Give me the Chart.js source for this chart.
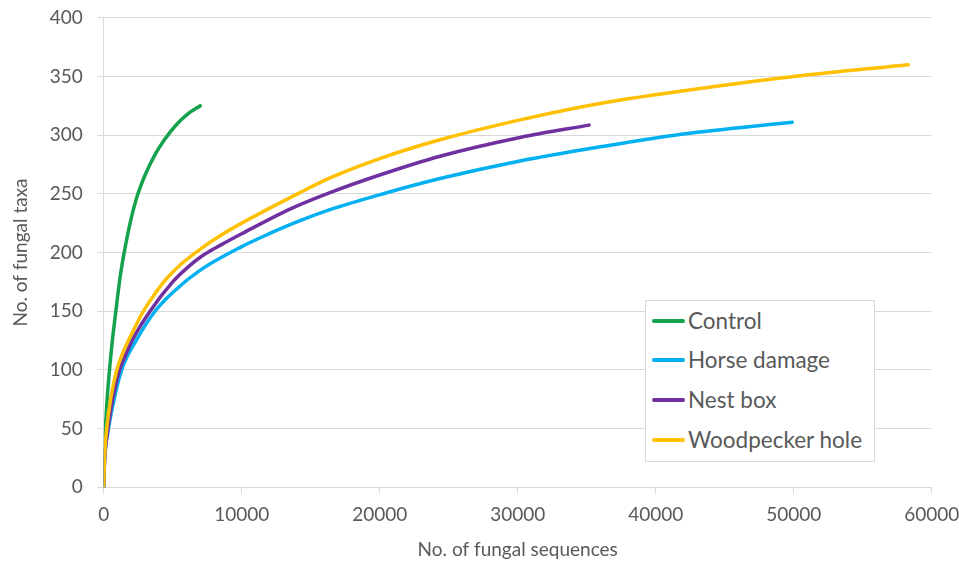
<!DOCTYPE html>
<html>
<head>
<meta charset="utf-8">
<script src="https://cdn.jsdelivr.net/npm/chart.js@4.4.1/dist/chart.umd.min.js"></script>
<style>
  body { margin: 0; background: #fff; }
  #wrap { position: relative; width: 959px; height: 562px; }
  #legend {
    position: absolute; left: 645px; top: 300px; width: 228px; height: 160px;
    border: 1px solid #d9d9d9; background: #fff;
    font-family: Lato, sans-serif; font-size: 22.5px; color: #595959;
  }
  .item { position: absolute; left: 0; height: 30px; line-height: 30px; white-space: nowrap; }
  .item span.swatch { position: absolute; left: 6px; top: 13px; width: 33px; height: 4px; border-radius: 2px; }
  .item span.label { position: absolute; left: 42px; top: 0; }
</style>
</head>
<body>
<div id="wrap">
  <canvas id="myChart" width="959" height="562"></canvas>
  <div id="legend"></div>
</div>
<script>
// rarefaction curves
const seriesNames = ['Control', 'Horse damage', 'Nest box', 'Woodpecker hole'];
const seriesColors = ['#14a24c', '#00b0f0', '#7030a0', '#ffc000'];

const controlX = [0, 40, 120, 250, 420, 620, 880, 1200, 1550, 1950, 2400, 3000, 3700, 4400, 5200, 6100, 7000];
const controlY = [0, 22, 48, 75, 100, 124, 150, 180, 204, 227, 247, 266, 283, 296, 308, 318, 325];

const horseX = [0, 60, 280, 700, 1300, 2400, 3717, 5000, 7000, 10000, 12000, 14000, 16400, 20384, 24370, 30166, 35964, 42000, 49900];
const horseY = [0, 22, 45, 72, 100, 126, 150, 166, 185, 205, 216, 226, 236.5, 250.5, 263, 278, 290, 301, 311];

const nestX = [0, 60, 250, 600, 1150, 1600, 2100, 3355, 5000, 6000, 7000, 8500, 10000, 13500, 16400, 20000, 24370, 30166, 35167];
const nestY = [0, 22, 45, 72, 100, 113, 126, 150, 175, 186.5, 196, 206.5, 216, 237, 251, 266, 282, 298, 308.5];

const woodX = [0, 60, 217, 500, 950, 1400, 2000, 2826, 3600, 4500, 5600, 6900, 8400, 10000, 14225, 16400, 20000, 24370, 30166, 35964, 44000, 50000, 58300];
const woodY = [0, 25, 50, 75, 100, 115, 130, 149, 163, 177, 190, 202, 214, 225, 251, 263.5, 280, 296, 313, 327, 341, 350, 360];

const xTicks = [0, 10000, 20000, 30000, 40000, 50000, 60000];
const yTicks = [0, 50, 100, 150, 200, 250, 300, 350, 400];

const seriesX = [controlX, horseX, nestX, woodX];
const seriesY = [controlY, horseY, nestY, woodY];
const drawOrder = [3, 2, 1, 0]; // woodpecker on top

const grey = '#595959';
const gridGrey = '#d9d9d9';
const font = 'Lato, sans-serif';

const datasets = seriesNames.map((name, i) => ({
    label: name,
    data: seriesX[i].map((x, j) => ({ x: x, y: seriesY[i][j] })),
    borderColor: seriesColors[i],
    backgroundColor: seriesColors[i],
    borderWidth: 3.5,
    borderCapStyle: 'round',
    pointRadius: 0,
    cubicInterpolationMode: 'monotone',
    order: drawOrder[i]
}));

// let layout.padding alone decide where the plot area goes
function noScalePadding(s) {
    s.paddingTop = 0;
    s.paddingBottom = 0;
    s.paddingLeft = 0;
    s.paddingRight = 0;
}

new Chart(document.getElementById('myChart'), {
    type: 'line',
    data: { datasets: datasets },
    options: {
        responsive: false,
        animation: false,
        layout: { padding: { top: 17.7, right: 27.3, left: 0, bottom: 0 } },
        plugins: { legend: { display: false }, tooltip: { enabled: false } },
        scales: {
            x: {
                type: 'linear',
                min: 0,
                max: 60000,
                afterBuildTicks: s => { s.ticks = xTicks.map(v => ({ value: v })); },
                afterFit: s => { s.height = 74.7; noScalePadding(s); },
                ticks: { color: grey, font: { family: font, size: 19 }, padding: 10, maxRotation: 0,
                         callback: v => String(v) },
                grid: { drawOnChartArea: false, drawTicks: true, tickLength: 6, color: gridGrey },
                border: { display: true, color: gridGrey, width: 1 },
                title: { display: true, text: 'No. of fungal sequences', color: grey,
                         font: { family: font, size: 19 }, padding: { top: 0, bottom: 1 } }
            },
            y: {
                min: 0,
                max: 400,
                afterBuildTicks: s => { s.ticks = yTicks.map(v => ({ value: v })); },
                afterFit: s => { s.width = 103.7; noScalePadding(s); },
                ticks: { color: grey, font: { family: font, size: 19 }, padding: 15,
                         callback: v => String(v) },
                grid: { color: gridGrey, tickLength: 6, lineWidth: 1 },
                border: { display: true, color: gridGrey, width: 1 },
                title: { display: true, text: 'No. of fungal taxa', color: grey,
                         font: { family: font, size: 19 }, padding: { top: 9, bottom: 0 } }
            }
        }
    }
});

// legend box sits inside the plot like the original
const legend = document.getElementById('legend');
const rowTops = [5, 44, 84, 124];
seriesNames.forEach((name, i) => {
    const row = document.createElement('div');
    row.className = 'item';
    row.style.top = rowTops[i] + 'px';
    row.innerHTML = '<span class="swatch" style="background:' + seriesColors[i] + '"></span><span class="label">' + name + '</span>';
    legend.appendChild(row);
});
</script>
</body>
</html>
